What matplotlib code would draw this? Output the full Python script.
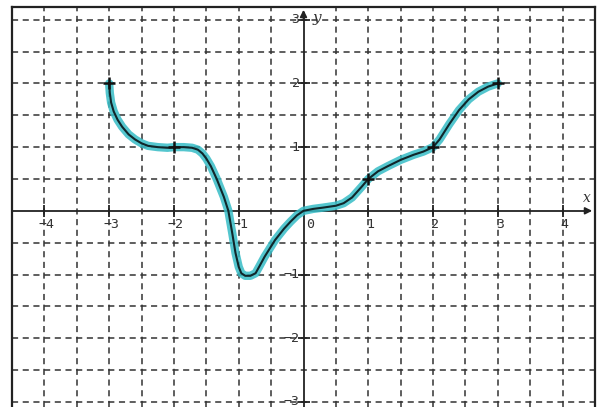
import numpy as np
import matplotlib.pyplot as plt

# curve
curve_x = [-3.0, -2.99, -2.97, -2.93, -2.87, -2.8, -2.7, -2.6, -2.5, -2.4,
           -2.25, -2.1, -2.0, -1.85, -1.72, -1.63, -1.56, -1.5, -1.43, -1.34,
           -1.23, -1.16, -1.1, -1.05, -1.0, -0.96, -0.9, -0.82, -0.74, -0.68,
           -0.6, -0.44, -0.3, -0.2, -0.1, 0.0, 0.15, 0.3, 0.5, 0.62,
           0.75, 0.9, 1.0, 1.15, 1.3, 1.5, 1.7, 1.85, 2.0, 2.1,
           2.25, 2.4, 2.55, 2.7, 2.85, 3.0]
curve_y = [2.0, 1.85, 1.7, 1.56, 1.43, 1.32, 1.2, 1.12, 1.06, 1.02,
           1.0, 0.99, 1.0, 1.0, 0.99, 0.96, 0.9, 0.82, 0.7, 0.5,
           0.22, 0.0, -0.35, -0.66, -0.88, -0.98, -1.02, -1.02, -0.98, -0.87,
           -0.72, -0.46, -0.28, -0.17, -0.07, 0.0, 0.03, 0.05, 0.08, 0.12,
           0.21, 0.38, 0.5, 0.62, 0.7, 0.8, 0.88, 0.93, 1.0, 1.12,
           1.36, 1.58, 1.75, 1.87, 1.95, 2.0]

mark_x = [-3, -2, 1, 2, 3]
mark_y = [2, 1, 0.5, 1, 2]

x_ticks = [-4, -3, -2, -1, 1, 2, 3, 4]
y_ticks = [-3, -2, -1, 1, 2, 3]

fig = plt.figure(figsize=(5.97, 4.07), dpi=100)
ax = fig.add_axes([12/597, 0, 583/597, 400/407])
ax.set_xlim(-4.5, 4.5)
ax.set_ylim(-3.08, 3.2)
ax.set_xticks([])
ax.set_yticks([])
for s in ['left', 'top', 'right']:
    ax.spines[s].set_linewidth(1.6)
    ax.spines[s].set_color('#222222')
ax.spines['bottom'].set_visible(False)

# dashed grid every half unit
gx = np.arange(-4, 4.01, 0.5)
gy = np.arange(-3, 3.01, 0.5)
for v in gx:
    if v != 0:
        ax.axvline(v, color='#333333', lw=1.1, ls=(0, (4, 3)), zorder=1)
for v in gy:
    if v != 0:
        ax.axhline(v, color='#333333', lw=1.1, ls=(0, (4, 3)), zorder=1)

# axes with arrows
ax.plot([-4.5, 4.4], [0, 0], color='#222222', lw=1.3, zorder=2)
ax.plot([0, 0], [-3.08, 3.1], color='#222222', lw=1.3, zorder=2)
ax.annotate('', xy=(4.5, 0), xytext=(4.3, 0),
            arrowprops=dict(arrowstyle='-|>', color='#222222', lw=1.3))
ax.annotate('', xy=(0, 3.2), xytext=(0, 2.95),
            arrowprops=dict(arrowstyle='-|>', color='#222222', lw=1.3))
ax.plot(x_ticks, [0]*len(x_ticks), '|', color='#222222', ms=8, mew=1.3, zorder=2)
ax.plot([0]*len(y_ticks), y_ticks, '_', color='#222222', ms=8, mew=1.3, zorder=2)

for t in x_ticks:
    ax.text(t + 0.03, -0.22, str(t).replace('-', '\u2212'), ha='center', va='center',
            fontsize=9.5, family='DejaVu Sans Mono', color='#333333')
ax.text(0.1, -0.22, '0', ha='center', va='center', fontsize=9.5,
        family='DejaVu Sans Mono', color='#333333')
for t in y_ticks:
    ax.text(-0.06, t, str(t).replace('-', '\u2212'), ha='right', va='center',
            fontsize=9.5, family='DejaVu Sans Mono', color='#333333')
ax.text(4.37, 0.2, 'x', ha='center', va='center', fontsize=10,
        style='italic', family='DejaVu Serif', color='#333333')
ax.text(0.2, 3.03, 'y', ha='center', va='center', fontsize=11,
        style='italic', family='DejaVu Serif', color='#333333')

# highlighted curve
ax.plot(curve_x, curve_y, color='#36bcc6', lw=6, alpha=0.85,
        solid_capstyle='round', solid_joinstyle='round', zorder=3)
ax.plot(curve_x, curve_y, color='#10262a', lw=1.5, zorder=4,
        solid_joinstyle='round')
ax.plot(mark_x, mark_y, '+', color='#111111', ms=8, mew=1.8, zorder=5)

fig.savefig('out.png', dpi=100)
